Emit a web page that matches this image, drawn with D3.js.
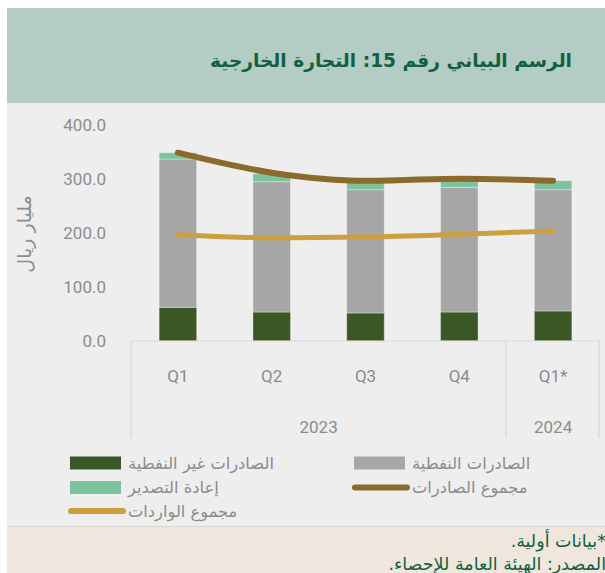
<!DOCTYPE html>
<html>
  <head>
    <meta charset="UTF-8" />
    <title>التجارة الخارجية</title>
    <style>
      body { margin: 0; background: #fff; }
      svg { display: block; }
    </style>
  </head>
  <body>
    <svg width="605" height="573"></svg>

    <script src="https://d3js.org/d3.v7.min.js"></script>
    <script>
      // البيانات
      const categories = ["Q1", "Q2", "Q3", "Q4", "Q1*"];
      const years = [
        { label: "2023", from: 0, to: 3 },
        { label: "2024", from: 4, to: 4 },
      ];
      const nonOilExports = [62.4, 53.7, 51.9, 53.7, 55.6]; // الصادرات غير النفطية
      const oilExports = [274.6, 241.3, 228.3, 230.9, 224.6]; // الصادرات النفطية
      const reExports = [11.7, 14.8, 15.8, 15.4, 16.6]; // إعادة التصدير
      const totalExports = [348.7, 311.7, 296.8, 300.6, 296.8]; // مجموع الصادرات
      const totalImports = [196.9, 191.3, 192.6, 197.5, 203.7]; // مجموع الواردات
      const yTicks = [0, 100, 200, 300, 400];

      const AR_FONT = "'DejaVu Sans', sans-serif";
      const NUM_FONT = "Roboto, 'DejaVu Sans', sans-serif";
      const GRAY_TEXT = "#8c8c8c";

      const svg = d3.select("svg");

      // الخلفيات
      svg.append("rect").attr("x", 7).attr("y", 8).attr("width", 598).attr("height", 95).attr("fill", "#b3cdc5");
      svg.append("rect").attr("x", 7).attr("y", 103).attr("width", 598).attr("height", 423).attr("fill", "#eeeeee");
      svg.append("rect").attr("x", 7).attr("y", 526).attr("width", 598).attr("height", 47).attr("fill", "#efe7de");
      svg.append("line").attr("x1", 7).attr("x2", 605).attr("y1", 526.5).attr("y2", 526.5).attr("stroke", "#dcd6cf");

      // العنوان
      svg
        .append("text")
        .attr("x", 572)
        .attr("y", 60)
        .attr("direction", "rtl")
        .attr("text-anchor", "start")
        .attr("dominant-baseline", "central")
        .attr("font-family", AR_FONT)
        .attr("font-weight", "bold")
        .attr("font-size", "18.6px")
        .attr("fill", "#11603f")
        .text("الرسم البياني رقم 15: التجارة الخارجية");

      // المقاييس
      const x = d3.scaleBand().domain(categories).range([131, 600]).paddingInner(0.6).paddingOuter(0.3);
      const y = d3.scaleLinear().domain([0, 400]).range([341, 125]);
      const bw = x.bandwidth();

      // محور y
      const yAxis = svg
        .append("g")
        .attr("transform", "translate(106,0)")
        .call(d3.axisLeft(y).tickValues(yTicks).tickFormat(d3.format(".1f")).tickSize(0).tickPadding(0));
      yAxis.select(".domain").remove();
      yAxis
        .selectAll("text")
        .attr("font-family", NUM_FONT)
        .attr("font-size", "17px")
        .attr("fill", GRAY_TEXT);

      svg
        .append("text")
        .attr("transform", "translate(24,234) rotate(-90)")
        .attr("text-anchor", "middle")
        .attr("dominant-baseline", "central")
        .attr("font-family", AR_FONT)
        .attr("font-size", "19px")
        .attr("fill", GRAY_TEXT)
        .text("مليار ريال");

      // الأعمدة المكدسة
      const rows = categories.map((c, i) => ({
        cat: c,
        nonOil: nonOilExports[i],
        oil: oilExports[i],
        reexp: reExports[i],
      }));
      const keys = ["nonOil", "oil", "reexp"];
      const colors = { nonOil: "#3a5724", oil: "#a6a6a6", reexp: "#7cc29c" };
      const stacked = d3.stack().keys(keys)(rows);

      svg
        .append("g")
        .selectAll("g")
        .data(stacked)
        .join("g")
        .attr("fill", (d) => colors[d.key])
        .selectAll("rect")
        .data((d) => d)
        .join("rect")
        .attr("x", (d) => x(d.data.cat))
        .attr("width", bw)
        .attr("y", (d) => y(d[1]))
        .attr("height", (d) => y(d[0]) - y(d[1]))
        .attr("stroke", "rgba(255,255,255,0.35)")
        .attr("stroke-width", 1);

      // محور x
      const axisG = svg.append("g").attr("stroke", "#d9d9d9").attr("stroke-width", 1.2);
      const xEnd = x.range()[1];
      const divider = x(categories[4]) - (x.step() * x.paddingInner()) / 2;
      axisG.append("line").attr("x1", 131).attr("x2", xEnd).attr("y1", y(0)).attr("y2", y(0));
      [131, divider, xEnd - 1].forEach((vx) => {
        axisG.append("line").attr("x1", vx).attr("x2", vx).attr("y1", y(0)).attr("y2", 438);
      });

      svg
        .append("g")
        .selectAll("text")
        .data(categories)
        .join("text")
        .attr("x", (d) => x(d) + bw / 2)
        .attr("y", 376)
        .attr("text-anchor", "middle")
        .attr("dominant-baseline", "central")
        .attr("font-family", NUM_FONT)
        .attr("font-size", "17px")
        .attr("fill", GRAY_TEXT)
        .text((d) => d);

      const yearEdges = [131, divider, xEnd];
      svg
        .append("g")
        .selectAll("text")
        .data(years)
        .join("text")
        .attr("x", (d, i) => (yearEdges[i] + yearEdges[i + 1]) / 2)
        .attr("y", 427)
        .attr("text-anchor", "middle")
        .attr("dominant-baseline", "central")
        .attr("font-family", NUM_FONT)
        .attr("font-size", "17px")
        .attr("fill", GRAY_TEXT)
        .text((d) => d.label);

      // الخطوط
      const line = d3
        .line()
        .x((d, i) => x(categories[i]) + bw / 2)
        .y((d) => y(d))
        .curve(d3.curveMonotoneX);

      svg
        .append("path")
        .attr("d", line(totalImports))
        .attr("fill", "none")
        .attr("stroke", "#cd9f40")
        .attr("stroke-width", 5)
        .attr("stroke-linecap", "round");

      svg
        .append("path")
        .attr("d", line(totalExports))
        .attr("fill", "none")
        .attr("stroke", "#8c6a2b")
        .attr("stroke-width", 6)
        .attr("stroke-linecap", "round");

      // وسيلة الإيضاح
      const legendItems = [
        { label: "الصادرات غير النفطية", type: "rect", color: "#3a5724", x: 70, y: 463 },
        { label: "الصادرات النفطية", type: "rect", color: "#a6a6a6", x: 354, y: 463 },
        { label: "إعادة التصدير", type: "rect", color: "#7cc29c", x: 70, y: 487.5 },
        { label: "مجموع الصادرات", type: "line", color: "#8c6a2b", x: 354, y: 487.5 },
        { label: "مجموع الواردات", type: "line", color: "#cd9f40", x: 70, y: 511 },
      ];
      const legend = svg
        .append("g")
        .selectAll("g")
        .data(legendItems)
        .join("g")
        .attr("transform", (d) => `translate(${d.x},${d.y})`);

      legend
        .filter((d) => d.type === "rect")
        .append("rect")
        .attr("x", 0)
        .attr("y", -6.5)
        .attr("width", 51)
        .attr("height", 13)
        .attr("fill", (d) => d.color);

      legend
        .filter((d) => d.type === "line")
        .append("line")
        .attr("x1", 1)
        .attr("x2", 53)
        .attr("y1", 0)
        .attr("y2", 0)
        .attr("stroke", (d) => d.color)
        .attr("stroke-width", 6)
        .attr("stroke-linecap", "round");

      legend
        .append("text")
        .attr("x", 58)
        .attr("y", 0)
        .attr("direction", "rtl")
        .attr("text-anchor", "end")
        .attr("dominant-baseline", "central")
        .attr("font-family", AR_FONT)
        .attr("font-size", "16.3px")
        .attr("fill", GRAY_TEXT)
        .text((d) => d.label);

      // الحواشي
      const notes = ["*بيانات أولية.", "المصدر: الهيئة العامة للإحصاء."];
      svg
        .append("g")
        .selectAll("text")
        .data(notes)
        .join("text")
        .attr("x", 606)
        .attr("y", (d, i) => 541 + i * 23)
        .attr("direction", "rtl")
        .attr("text-anchor", "start")
        .attr("dominant-baseline", "central")
        .attr("font-family", AR_FONT)
        .attr("font-size", "17.5px")
        .attr("fill", "#11603f")
        .text((d) => d);
    </script>
  </body>
</html>
